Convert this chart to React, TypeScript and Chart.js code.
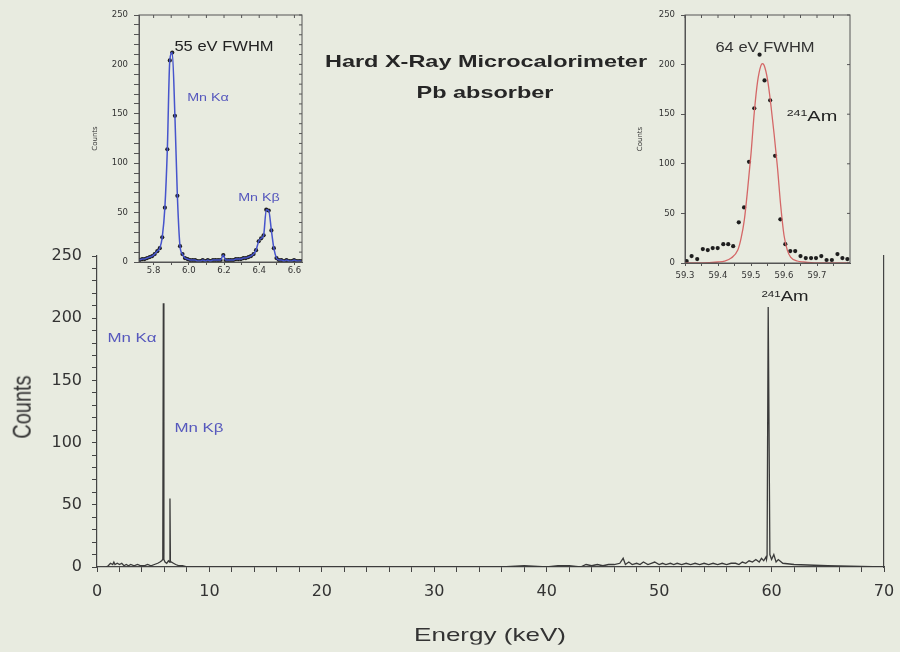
import React, { useEffect, useRef } from 'react';
import { Chart, registerables } from 'chart.js';

Chart.register(...registerables);

// ---------- main spectrum ----------
const mainEnergy = [0.8, 1.0, 1.2, 1.4, 1.5, 1.6, 1.8, 2.0, 2.2, 2.4, 2.6, 2.8, 3.0, 3.3, 3.6, 3.9, 4.2, 4.5, 4.8, 5.1, 5.4, 5.6, 5.75, 5.85, 5.9, 5.95, 6.05, 6.2, 6.35, 6.45, 6.49, 6.53, 6.6, 6.8, 7.0, 7.3, 7.6, 8.0, 12, 20, 30, 36, 38, 40, 41, 42, 43, 43.5, 44, 44.5, 45, 45.5, 46, 46.5, 46.8, 47, 47.3, 47.6, 48, 48.3, 48.6, 49, 49.3, 49.6, 50, 50.3, 50.6, 51, 51.3, 51.6, 52, 52.4, 52.8, 53.2, 53.6, 54, 54.4, 54.8, 55.2, 55.6, 56, 56.4, 56.8, 57.1, 57.4, 57.7, 58, 58.3, 58.6, 58.9, 59.1, 59.3, 59.5, 59.55, 59.6, 59.7, 59.85, 60.0, 60.2, 60.4, 60.6, 61, 62, 65, 70];
const mainCounts = [0, 1, 3, 2, 4, 2, 3, 2, 3, 1, 2, 1, 2, 1, 2, 1, 1, 2, 1, 2, 3, 4, 5, 6, 212, 6, 4, 3, 5, 4, 55, 4, 4, 3, 2, 1, 1, 0, 0, 0, 0, 0, 1, 0, 1, 1, 0, 2, 1, 2, 1, 2, 2, 3, 7, 2, 4, 2, 3, 2, 4, 2, 3, 4, 2, 3, 2, 3, 2, 3, 2, 3, 2, 3, 2, 3, 2, 3, 2, 3, 2, 3, 3, 2, 4, 3, 5, 4, 6, 4, 7, 5, 8, 6, 9, 209, 10, 6, 10, 4, 6, 3, 2, 1, 0, 0, 0];
const mainXLabels = [0, 10, 20, 30, 40, 50, 60, 70];
const mainYLabels = [0, 50, 100, 150, 200, 250];

// ---------- left inset (Mn K lines) ----------
const leftEnergy = [5.720, 5.735, 5.749, 5.763, 5.778, 5.792, 5.806, 5.821, 5.835, 5.849, 5.864, 5.878, 5.892, 5.906, 5.921, 5.935, 5.950, 5.964, 5.978, 5.993, 6.007, 6.022, 6.036, 6.050, 6.065, 6.079, 6.094, 6.108, 6.122, 6.137, 6.151, 6.166, 6.180, 6.196, 6.209, 6.224, 6.238, 6.252, 6.267, 6.281, 6.296, 6.310, 6.324, 6.339, 6.353, 6.368, 6.382, 6.397, 6.411, 6.425, 6.440, 6.454, 6.469, 6.483, 6.498, 6.512, 6.526, 6.541, 6.555, 6.570, 6.584, 6.598, 6.613, 6.627, 6.640];
const leftCounts = [2, 3, 3, 4, 5, 6, 8, 11, 14, 25, 55, 114, 204, 212, 148, 67, 16, 8, 4, 3, 2, 2, 2, 1, 1, 2, 1, 2, 1, 2, 2, 2, 2, 7, 2, 2, 2, 2, 3, 3, 3, 4, 4, 5, 6, 8, 12, 21, 24, 27, 53, 52, 32, 14, 4, 2, 2, 1, 2, 1, 1, 2, 1, 1, 1];
const leftXLabels = [5.8, 6.0, 6.2, 6.4, 6.6];
const leftYLabels = [0, 50, 100, 150, 200, 250];

// ---------- right inset (241Am line) ----------
const rightEnergy = [59.305, 59.320, 59.337, 59.354, 59.369, 59.384, 59.399, 59.416, 59.431, 59.446, 59.463, 59.479, 59.494, 59.510, 59.526, 59.541, 59.558, 59.573, 59.589, 59.604, 59.619, 59.634, 59.650, 59.666, 59.682, 59.697, 59.713, 59.729, 59.745, 59.762, 59.777, 59.792];
const rightCounts = [2, 7, 4, 14, 13, 15, 15, 19, 19, 17, 41, 56, 102, 156, 210, 184, 164, 108, 44, 19, 12, 12, 7, 5, 5, 5, 7, 3, 3, 9, 5, 4];
const rightFitEnergy = [59.30, 59.35, 59.40, 59.42, 59.44, 59.46, 59.47, 59.48, 59.49, 59.50, 59.51, 59.52, 59.53, 59.535, 59.54, 59.55, 59.56, 59.57, 59.58, 59.59, 59.60, 59.61, 59.62, 59.64, 59.66, 59.70, 59.80];
const rightFitCounts = [0, 0, 1, 2, 5, 13, 25, 44, 75, 110, 152, 183, 199, 201, 199, 185, 160, 130, 97, 58, 28, 13, 6, 2, 1, 0, 0];
const rightXLabels = [59.3, 59.4, 59.5, 59.6, 59.7];
const rightYLabels = [0, 50, 100, 150, 200, 250];

const BG = '#e8ebe0';
const FONT = "'DejaVu Sans', sans-serif";
const SANS = "'Liberation Sans', Arial, sans-serif";
const BLUE = '#5658bd';

const pts = (xs: number[], ys: number[]) => xs.map((x, i) => ({ x, y: ys[i] }));
const hasLabel = (labels: number[], v: number) => labels.some((l) => Math.abs(l - v) < 1e-6);
const range = (a: number, b: number, s: number) => {
  const out: number[] = [];
  for (let v = a; v <= b + 1e-9; v += s) out.push(Math.round(v * 1000) / 1000);
  return out;
};

const boxPlugin = {
  id: 'insetBox',
  afterDraw(chart: any) {
    const { ctx, chartArea: a, scales } = chart;
    ctx.save();
    ctx.strokeStyle = '#555';
    ctx.lineWidth = 1;
    ctx.strokeRect(a.left, a.top, a.right - a.left, a.bottom - a.top);
    ctx.beginPath();
    (scales.x.ticks || []).forEach((t: any) => {
      const px = scales.x.getPixelForValue(t.value);
      ctx.moveTo(px, a.top);
      ctx.lineTo(px, a.top + 3);
    });
    (scales.y.ticks || []).forEach((t: any) => {
      const py = scales.y.getPixelForValue(t.value);
      ctx.moveTo(a.right, py);
      ctx.lineTo(a.right - 3, py);
    });
    ctx.stroke();
    ctx.restore();
  },
};

function MainChart() {
  const ref = useRef<HTMLCanvasElement>(null);
  useEffect(() => {
    const chart = new Chart(ref.current!, {
      type: 'scatter',
      data: {
        datasets: [
          {
            data: pts(mainEnergy, mainCounts),
            showLine: true,
            borderColor: '#3a3a3a',
            borderWidth: 1.3,
            pointRadius: 0,
            tension: 0,
          },
        ],
      },
      options: {
        responsive: false,
        animation: false,
        events: [],
        layout: { padding: { left: 0, top: 256, right: 16, bottom: 0 } },
        plugins: { legend: { display: false }, tooltip: { enabled: false } },
        scales: {
          x: {
            type: 'linear',
            min: 0,
            max: 70,
            afterBuildTicks: (s: any) => {
              s.ticks = range(0, 70, 2).map((value) => ({ value }));
            },
            afterFit: (s: any) => {
              s.height = 85;
              s.paddingLeft = 0;
              s.paddingRight = 0;
            },
            ticks: {
              autoSkip: false,
              maxRotation: 0,
              padding: 10,
              color: '#333',
              font: { family: FONT, size: 16 },
              callback: (v: any) => (hasLabel(mainXLabels, v) ? String(v) : ''),
            },
            grid: { drawOnChartArea: false, tickLength: 5, color: '#444' },
            border: { color: '#444', width: 1.2 },
          },
          y: {
            type: 'linear',
            min: 0,
            max: 250,
            afterBuildTicks: (s: any) => {
              s.ticks = range(0, 250, 10).map((value) => ({ value }));
            },
            afterFit: (s: any) => {
              s.width = 97;
            },
            ticks: {
              autoSkip: false,
              padding: 10,
              color: '#333',
              font: { family: FONT, size: 16 },
              callback: (v: any) => (hasLabel(mainYLabels, v) ? String(v) : ''),
            },
            grid: { drawOnChartArea: false, tickLength: 5, color: '#444' },
            border: { color: '#444', width: 1.2 },
          },
          y2: {
            type: 'linear',
            position: 'right',
            min: 0,
            max: 250,
            ticks: { display: false },
            grid: { display: false, drawTicks: false },
            border: { display: true, color: '#444', width: 1.2 },
            afterFit: (s: any) => {
              s.width = 0;
            },
          },
        },
      },
    } as any);
    return () => chart.destroy();
  }, []);
  return <canvas ref={ref} width={900} height={652} style={{ position: 'absolute', left: 0, top: 0 }} />;
}

type InsetProps = {
  left: number;
  width: number;
  height: number;
  padRight: number;
  yWidth: number;
  xHeight: number;
  xMin: number;
  xMax: number;
  xTicks: number[];
  xLabels: number[];
  yTicks: number[];
  yLabels: number[];
  xLabelPad: number;
  yTickLen: number;
  datasets: any[];
};

function Inset(p: InsetProps) {
  const ref = useRef<HTMLCanvasElement>(null);
  useEffect(() => {
    const chart = new Chart(ref.current!, {
      type: 'scatter',
      data: { datasets: p.datasets },
      options: {
        responsive: false,
        animation: false,
        events: [],
        layout: { padding: { left: 0, top: 15, right: p.padRight, bottom: 0 } },
        plugins: { legend: { display: false }, tooltip: { enabled: false } },
        scales: {
          x: {
            type: 'linear',
            min: p.xMin,
            max: p.xMax,
            afterBuildTicks: (s: any) => {
              s.ticks = p.xTicks.map((value) => ({ value }));
            },
            afterFit: (s: any) => {
              s.height = p.xHeight;
              s.paddingLeft = 0;
              s.paddingRight = 0;
            },
            ticks: {
              autoSkip: false,
              maxRotation: 0,
              padding: p.xLabelPad,
              color: '#333',
              font: { family: FONT, size: 8.5 },
              callback: (v: any) => (hasLabel(p.xLabels, v) ? Number(v).toFixed(1) : ''),
            },
            grid: { drawOnChartArea: false, tickLength: 3, color: '#555' },
            border: { color: '#555', width: 1 },
          },
          y: {
            type: 'linear',
            min: 0,
            max: 250,
            afterBuildTicks: (s: any) => {
              s.ticks = p.yTicks.map((value) => ({ value }));
            },
            afterFit: (s: any) => {
              s.width = p.yWidth;
            },
            ticks: {
              autoSkip: false,
              padding: 6,
              color: '#333',
              font: { family: FONT, size: 8.5 },
              callback: (v: any) => (hasLabel(p.yLabels, v) ? String(v) : ''),
            },
            grid: { drawOnChartArea: false, tickLength: p.yTickLen, color: '#555' },
            border: { color: '#555', width: 1 },
            title: {
              display: true,
              text: 'Counts',
              color: '#333',
              font: { family: FONT, size: 7 },
              padding: { top: 6, bottom: 0 },
            },
          },
        },
      },
      plugins: [boxPlugin],
    } as any);
    return () => chart.destroy();
  }, []);
  return (
    <canvas
      ref={ref}
      width={p.width}
      height={p.height}
      style={{ position: 'absolute', left: p.left, top: 0 }}
    />
  );
}

type TxtProps = {
  x: number;
  y: number;
  size: number;
  color: string;
  bold?: boolean;
  sx?: number;
  rot?: boolean;
  children: any;
};

function Txt({ x, y, size, color, bold, sx = 1.33, rot, children }: TxtProps) {
  return (
    <div style={{ position: 'absolute', left: x, top: y, width: 0, height: 0 }}>
      <div
        style={{
          position: 'absolute',
          left: 0,
          top: 0,
          transformOrigin: '0 0',
          transform: `scaleX(${sx}) ${rot ? 'rotate(-90deg) ' : ''}translate(-50%, -50%)`,
          whiteSpace: 'nowrap',
          lineHeight: 1,
          fontFamily: SANS,
          fontSize: size,
          fontWeight: bold ? 'bold' : 'normal',
          color,
        }}
      >
        {children}
      </div>
    </div>
  );
}

const Sup = ({ children }: { children: any }) => (
  <span style={{ fontSize: '0.62em', verticalAlign: '0.5em' }}>{children}</span>
);

export default function App() {
  const leftDatasets = [
    {
      data: pts(leftEnergy, leftCounts),
      showLine: true,
      borderColor: '#4654cc',
      borderWidth: 1.5,
      pointRadius: 0,
      cubicInterpolationMode: 'monotone',
    },
    {
      data: pts(leftEnergy, leftCounts),
      showLine: false,
      pointRadius: 2.1,
      pointBackgroundColor: '#1e1e1e',
      pointBorderWidth: 0,
    },
  ];
  const rightDatasets = [
    {
      data: pts(rightFitEnergy, rightFitCounts),
      showLine: true,
      borderColor: '#d46767',
      borderWidth: 1.3,
      pointRadius: 0,
      cubicInterpolationMode: 'monotone',
    },
    {
      data: pts(rightEnergy, rightCounts),
      showLine: false,
      pointRadius: 2.1,
      pointBackgroundColor: '#1e1e1e',
      pointBorderWidth: 0,
    },
  ];
  return (
    <div
      style={{
        position: 'absolute',
        left: 0,
        top: 0,
        width: 900,
        height: 652,
        background: BG,
        overflow: 'hidden',
      }}
    >
      <MainChart />
      <Inset
        left={85}
        width={225}
        height={285}
        padRight={8}
        yWidth={54}
        xHeight={23}
        xMin={5.717}
        xMax={6.643}
        xTicks={range(5.8, 6.6, 0.1)}
        xLabels={leftXLabels}
        yTicks={range(0, 250, 10)}
        yLabels={leftYLabels}
        xLabelPad={1}
        yTickLen={5}
        datasets={leftDatasets}
      />
      <Inset
        left={630}
        width={230}
        height={285}
        padRight={10}
        yWidth={55}
        xHeight={22}
        xMin={59.3}
        xMax={59.8}
        xTicks={range(59.3, 59.75, 0.05)}
        xLabels={rightXLabels}
        yTicks={range(0, 250, 50)}
        yLabels={rightYLabels}
        xLabelPad={5}
        yTickLen={4}
        datasets={rightDatasets}
      />
      <Txt x={486} y={61} size={17} bold sx={1.38} color="#262626">Hard X-Ray Microcalorimeter</Txt>
      <Txt x={485} y={92} size={17} bold sx={1.38} color="#262626">Pb absorber</Txt>
      <Txt x={490} y={634} size={19} sx={1.37} color="#333">Energy (keV)</Txt>
      <Txt x={22} y={407} size={20} sx={1.3} rot color="#333">Counts</Txt>
      <Txt x={132} y={337} size={13} sx={1.3} color={BLUE}>Mn Kα</Txt>
      <Txt x={199} y={427} size={13} sx={1.3} color={BLUE}>Mn Kβ</Txt>
      <Txt x={224} y={46} size={14} sx={1.18} color="#222">55 eV FWHM</Txt>
      <Txt x={208} y={97} size={11} sx={1.3} color={BLUE}>Mn Kα</Txt>
      <Txt x={259} y={197} size={11} sx={1.3} color={BLUE}>Mn Kβ</Txt>
      <Txt x={765} y={47} size={14} sx={1.18} color="#333">64 eV FWHM</Txt>
      <Txt x={812} y={115} size={15} color="#222"><Sup>241</Sup>Am</Txt>
      <Txt x={785} y={296} size={14} color="#222"><Sup>241</Sup>Am</Txt>
    </div>
  );
}
